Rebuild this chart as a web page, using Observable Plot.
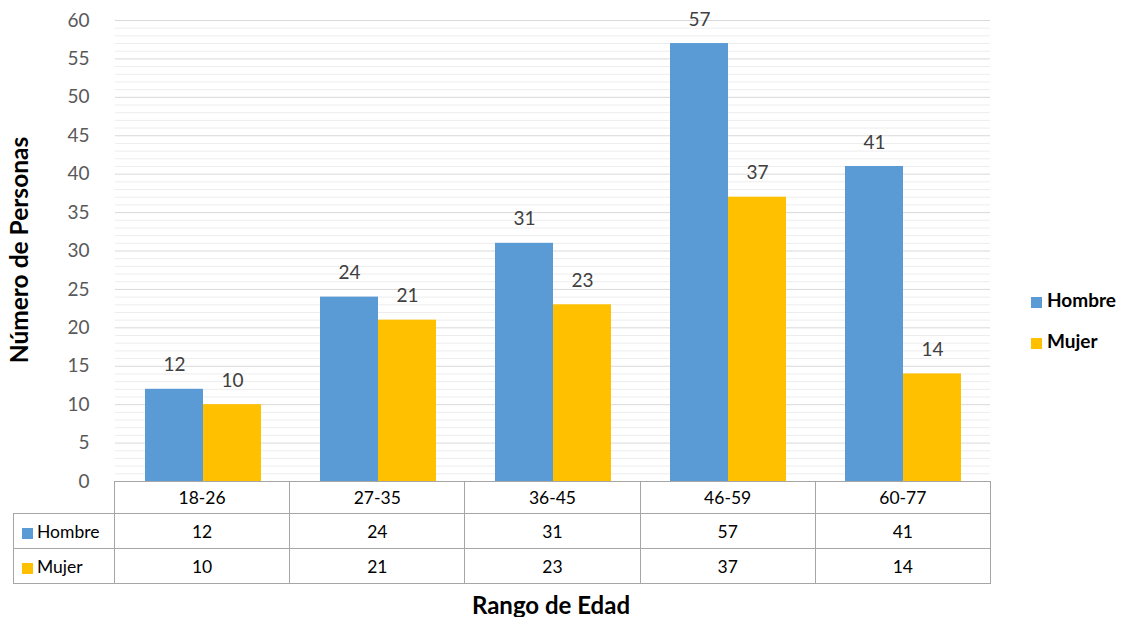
<!DOCTYPE html>
<html>
<head>
<meta charset="utf-8">
<script src="https://cdn.jsdelivr.net/npm/d3@7"></script>
<script src="https://cdn.jsdelivr.net/npm/@observablehq/plot@0.6"></script>
<style>
  body { margin: 0; background: #fff; font-family: Lato, "Open Sans", sans-serif; }
  #wrap { position: relative; width: 1126px; height: 617px; overflow: hidden; }
  #chart { position: absolute; left: 0; top: 0; }
  #tbl { position: absolute; left: 13px; top: 481px; width: 978px; table-layout: fixed; border-collapse: collapse; font-size: 17.5px; color: #000; }
  #tbl td { border: 1px solid #a6a6a6; text-align: center; padding: 0; overflow: hidden; white-space: nowrap; }
  #tbl td.lab { text-align: left; padding-left: 8px; }
  #tbl td.corner { border-top: none; border-left: none; }
  .sw { display: inline-block; width: 11px; height: 11px; margin-right: 4px; vertical-align: -1px; }
  #ytitle { position: absolute; left: 18px; top: 250px; transform: translate(-50%, -50%) rotate(-90deg); font-weight: bold; font-size: 24.5px; color: #000; white-space: nowrap; }
  #xtitle { position: absolute; left: 551px; top: 604px; transform: translate(-50%, -50%); font-weight: bold; font-size: 24px; color: #000; white-space: nowrap; }
  #legend { position: absolute; left: 1031px; top: 288px; font-weight: bold; font-size: 19px; color: #000; }
  #legend div { height: 41px; white-space: nowrap; }
  #legend .sw { margin-right: 5px; }
</style>
</head>
<body>
<div id="wrap">
  <div id="chart"></div>
  <table id="tbl"></table>
  <div id="ytitle">Número de Personas</div>
  <div id="xtitle">Rango de Edad</div>
  <div id="legend"></div>
</div>
<script>
const categories = ["18-26", "27-35", "36-45", "46-59", "60-77"];
const seriesNames = ["Hombre", "Mujer"];
const hombre = [12, 24, 31, 57, 41];
const mujer = [10, 21, 23, 37, 14];
const colors = ["#5B9BD5", "#FFC000"];
const majorTicks = d3.range(0, 61, 5);
const minorTicks = d3.range(0, 61).filter(v => v % 5 !== 0);

const values = {Hombre: hombre, Mujer: mujer};
const data = categories.flatMap((c, i) => seriesNames.map(s => ({cat: c, serie: s, value: values[s][i]})));

const chart = Plot.plot({
  width: 1126,
  height: 617,
  marginLeft: 114,
  marginRight: 136,
  marginTop: 20,
  marginBottom: 136,
  style: {fontFamily: "Lato, 'Open Sans', sans-serif", fontSize: "19px", color: "#595959", background: "transparent"},
  facet: {data, x: "cat"},
  fx: {domain: categories, padding: 0, axis: null, label: null},
  x: {domain: seriesNames, paddingInner: 0, paddingOuter: 0.5, axis: null},
  y: {domain: [0, 60], ticks: 12, tickSize: 0, tickPadding: 26, label: null},
  color: {domain: seriesNames, range: colors},
  marks: [
    Plot.ruleY(minorTicks, {stroke: "#ededed", strokeWidth: 1}),
    Plot.ruleY(majorTicks, {stroke: "#d9d9d9", strokeWidth: 1}),
    Plot.barY(data, {x: "serie", y: "value", fill: "serie"}),
    Plot.text(data, {x: "serie", y: "value", text: d => String(d.value), dy: -24, fill: "#404040", fontSize: 19})
  ]
});
document.getElementById("chart").appendChild(chart);

// data table
const tbl = document.getElementById("tbl");
let html = `<colgroup><col style="width:101px">` + categories.map(() => `<col>`).join("") + `</colgroup>`;
html += `<tr style="height:32px"><td class="corner"></td>` +
  categories.map(c => `<td>${c}</td>`).join("") + `</tr>`;
seriesNames.forEach((s, k) => {
  html += `<tr style="height:35px"><td class="lab"><span class="sw" style="background:${colors[k]}"></span>${s}</td>` +
    values[s].map(v => `<td>${v}</td>`).join("") + `</tr>`;
});
tbl.innerHTML = html;

// legend
document.getElementById("legend").innerHTML = seriesNames.map((s, k) =>
  `<div><span class="sw" style="background:${colors[k]}"></span>${s}</div>`).join("");
</script>
</body>
</html>
